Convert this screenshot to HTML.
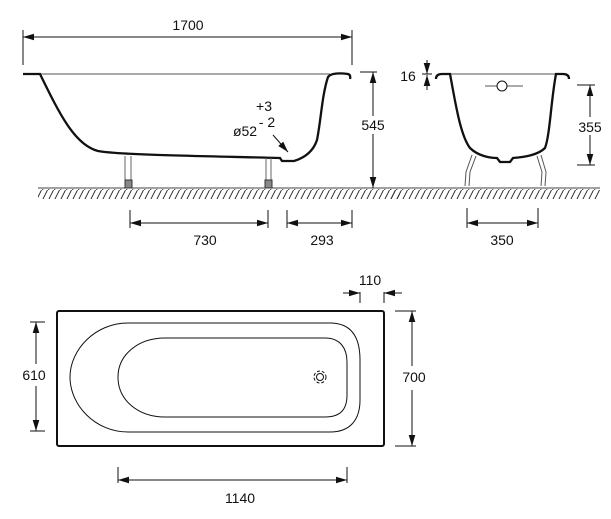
<!DOCTYPE html>
<html><head><style>body{margin:0;background:#fff}svg{display:block}text{font-family:"Liberation Sans",sans-serif;font-size:14px;fill:#111}</style></head>
<body>
<svg width="611" height="519" viewBox="0 0 611 519" xmlns="http://www.w3.org/2000/svg">
<defs>
<marker id="a" viewBox="0 0 10 6" refX="10" refY="3" markerWidth="11" markerHeight="7" orient="auto-start-reverse" markerUnits="userSpaceOnUse"><path d="M0,0L10,3L0,6z" fill="#111"/></marker>
<pattern id="h" width="6" height="10" patternUnits="userSpaceOnUse"><path d="M5.5,0L0.5,10" stroke="#222" stroke-width="0.9"/></pattern>
</defs>
<g stroke="#111" fill="none" stroke-width="1">
<rect x="38" y="189" width="362" height="10" fill="url(#h)" stroke="none"/>
<line x1="38" y1="188" x2="400" y2="188" stroke="#444"/>
<line x1="23" y1="37" x2="352" y2="37" marker-start="url(#a)" marker-end="url(#a)"/>
<line x1="23" y1="30" x2="23" y2="65"/><line x1="352" y1="30" x2="352" y2="65"/>
<line x1="40" y1="74" x2="330" y2="74" stroke="#555"/>
<path d="M23,74H40C60,115 75,145 98,151C120,155 200,156 280,158L282,161H294C304,158 313,152 317,140C321,120 322,95 328,77C331,73 340,73 348,74Q351,75 350,79" stroke-width="2.3"/>
<path d="M125,156V183M131,156V183M266,158V183M271,158V183" stroke="#666"/>
<rect x="125" y="180" width="7" height="8" fill="#888" stroke="#333"/>
<rect x="265" y="180" width="7" height="8" fill="#888" stroke="#333"/>
<line x1="273" y1="135" x2="288" y2="152" marker-end="url(#a)"/>
<line x1="360" y1="72" x2="377" y2="72"/>
<line x1="373" y1="72" x2="373" y2="116" marker-start="url(#a)"/>
<line x1="373" y1="134" x2="373" y2="188" marker-end="url(#a)"/>
<line x1="130" y1="223" x2="268" y2="223" marker-start="url(#a)" marker-end="url(#a)"/>
<line x1="130" y1="210" x2="130" y2="228"/><line x1="268" y1="210" x2="268" y2="228"/>
<line x1="287" y1="223" x2="352" y2="223" marker-start="url(#a)" marker-end="url(#a)"/>
<line x1="287" y1="210" x2="287" y2="228"/><line x1="352" y1="210" x2="352" y2="228"/>
<rect x="390" y="189" width="210" height="10" fill="url(#h)" stroke="none"/>
<line x1="390" y1="188" x2="600" y2="188" stroke="#444"/>
<line x1="450" y1="74" x2="555" y2="74" stroke="#555"/>
<path d="M436,79Q436,74 442,74H450C455,100 460,135 470,148C478,156 490,158 497,158L500,162H510L513,158C525,157 538,155 545,148C550,135 551,100 556,74H563Q569,74 569,79" stroke-width="2.3"/>
<path d="M472,155L466,172L465,186M476,156L470,172L469,186M537,156L542,172L541,186M541,155L546,172L545,186" stroke="#555"/>
<line x1="485" y1="86" x2="523" y2="86" stroke="#555"/><circle cx="502" cy="86" r="5" fill="#fff"/>
<line x1="427" y1="60" x2="427" y2="74" marker-end="url(#a)"/>
<line x1="427" y1="90" x2="427" y2="75" marker-end="url(#a)"/>
<line x1="422" y1="74" x2="432" y2="74"/>
<line x1="577" y1="85" x2="595" y2="85"/><line x1="577" y1="165" x2="595" y2="165"/>
<line x1="590" y1="85" x2="590" y2="117" marker-start="url(#a)"/>
<line x1="590" y1="135" x2="590" y2="165" marker-end="url(#a)"/>
<line x1="467" y1="223" x2="538" y2="223" marker-start="url(#a)" marker-end="url(#a)"/>
<line x1="467" y1="208" x2="467" y2="228"/><line x1="538" y1="208" x2="538" y2="228"/>
<rect x="57" y="311" width="327" height="135" rx="2" stroke-width="2"/>
<path d="M128,323H330C350,323 360,335 360,360V400C360,420 350,432 330,432H128C95,432 70,405 70,377C70,350 95,323 128,323Z"/>
<path d="M165,338H325C340,338 347,348 347,362V395C347,410 340,417 325,417H165C138,417 118,400 118,377C118,355 138,338 165,338Z"/>
<circle cx="320" cy="377" r="6" stroke-dasharray="3,2"/><circle cx="320" cy="377" r="3.5"/>
<line x1="30" y1="322" x2="45" y2="322"/><line x1="30" y1="431" x2="45" y2="431"/>
<line x1="36" y1="322" x2="36" y2="364" marker-start="url(#a)"/>
<line x1="36" y1="386" x2="36" y2="431" marker-end="url(#a)"/>
<line x1="395" y1="311" x2="416" y2="311"/><line x1="395" y1="446" x2="416" y2="446"/>
<line x1="412" y1="311" x2="412" y2="366" marker-start="url(#a)"/>
<line x1="412" y1="390" x2="412" y2="446" marker-end="url(#a)"/>
<line x1="360" y1="292" x2="360" y2="303"/><line x1="384" y1="292" x2="384" y2="303"/>
<line x1="343" y1="293" x2="360" y2="293" marker-end="url(#a)"/>
<line x1="402" y1="293" x2="384" y2="293" marker-end="url(#a)"/>
<line x1="118" y1="467" x2="118" y2="483"/><line x1="347" y1="467" x2="347" y2="483"/>
<line x1="118" y1="480" x2="347" y2="480" marker-start="url(#a)" marker-end="url(#a)"/>
</g>
<text x="188" y="30" text-anchor="middle">1700</text>
<text x="373" y="130" text-anchor="middle">545</text>
<text x="264" y="111" text-anchor="middle">+3</text>
<text x="267" y="127" text-anchor="middle">- 2</text>
<text x="245" y="136" text-anchor="middle">ø52</text>
<text x="205" y="245" text-anchor="middle">730</text>
<text x="322" y="245" text-anchor="middle">293</text>
<text x="408" y="81" text-anchor="middle">16</text>
<text x="590" y="132" text-anchor="middle">355</text>
<text x="502" y="245" text-anchor="middle">350</text>
<text x="370" y="285" text-anchor="middle">110</text>
<text x="34" y="380" text-anchor="middle">610</text>
<text x="414" y="382" text-anchor="middle">700</text>
<text x="240" y="503" text-anchor="middle">1140</text>
</svg>
</body></html>
